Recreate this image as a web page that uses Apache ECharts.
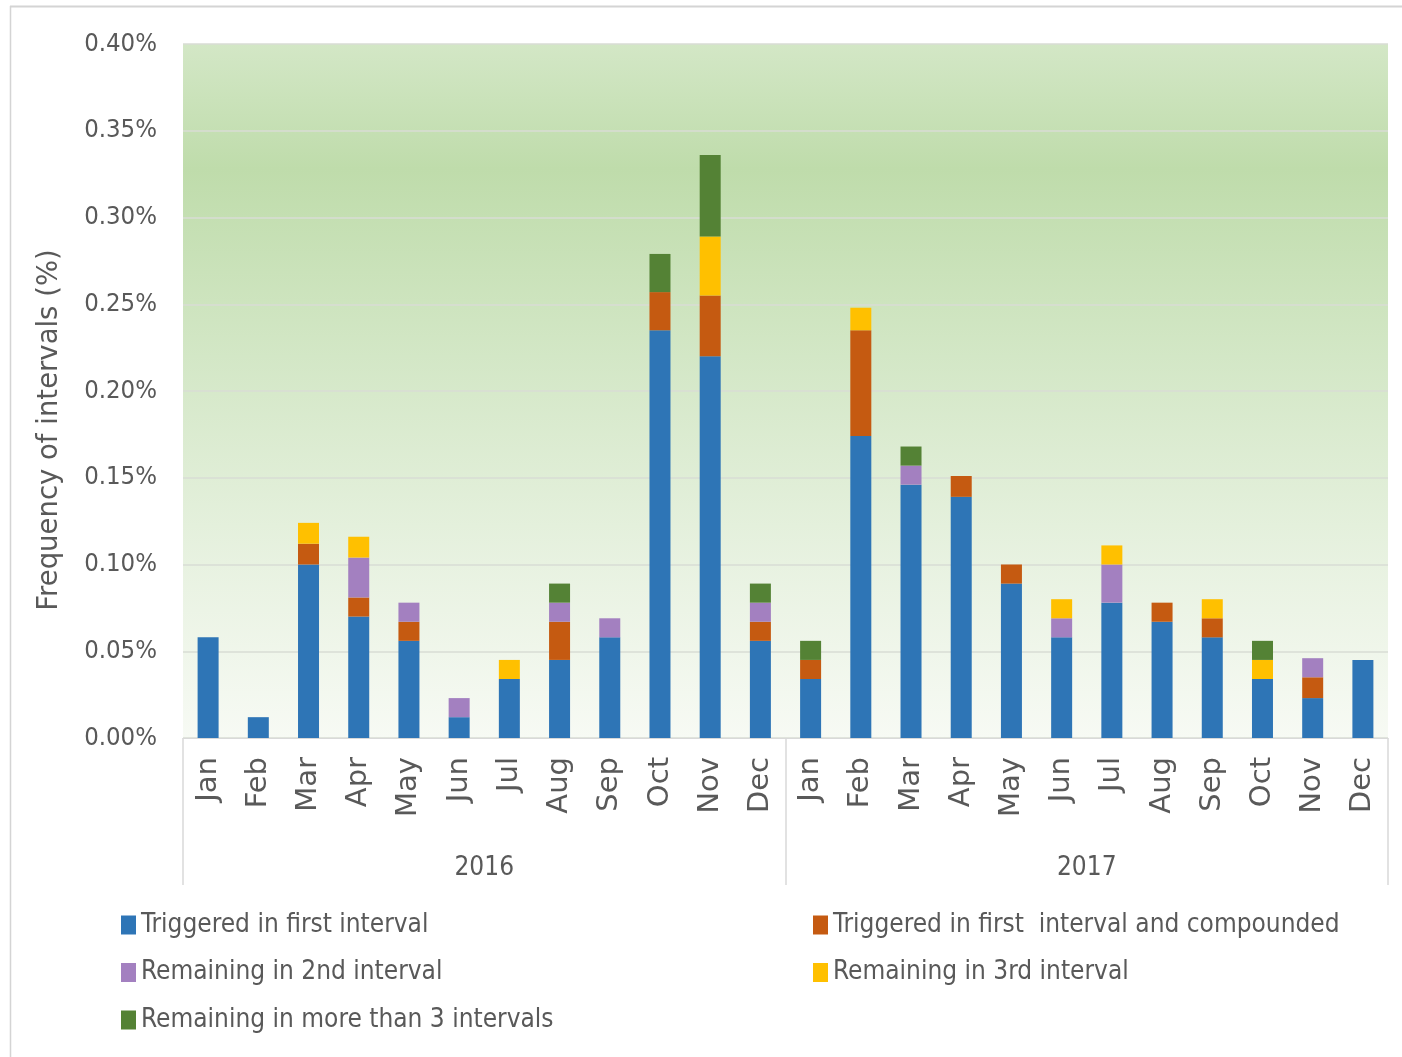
<!DOCTYPE html>
<html>
<head>
<meta charset="utf-8">
<title>Frequency of intervals</title>
<script src="https://cdn.jsdelivr.net/npm/echarts@6/dist/echarts.min.js"></script>
<style>
  html, body { margin: 0; padding: 0; background: #fff; }
  #chart { width: 1402px; height: 1057px; }
</style>
</head>
<body>
<div id="chart"></div>
<script>
// 月份 / 年份
const months = ['Jan', 'Feb', 'Mar', 'Apr', 'May', 'Jun', 'Jul', 'Aug', 'Sep', 'Oct', 'Nov', 'Dec',
  'Jan', 'Feb', 'Mar', 'Apr', 'May', 'Jun', 'Jul', 'Aug', 'Sep', 'Oct', 'Nov', 'Dec'];
const years = ['2016', '2017'];
const yTicks = [0, 0.05, 0.1, 0.15, 0.2, 0.25, 0.3, 0.35, 0.4];

// 各分段数值 (%)
const triggeredFirst = [0.058, 0.012, 0.100, 0.070, 0.056, 0.012, 0.034, 0.045, 0.058, 0.235, 0.220, 0.056,
  0.034, 0.174, 0.146, 0.139, 0.089, 0.058, 0.078, 0.067, 0.058, 0.034, 0.023, 0.045];
const compounded = [0, 0, 0.012, 0.011, 0.011, 0, 0, 0.022, 0, 0.022, 0.035, 0.011,
  0.011, 0.061, 0, 0.012, 0.011, 0, 0, 0.011, 0.011, 0, 0.012, 0];
const remaining2nd = [0, 0, 0, 0.023, 0.011, 0.011, 0, 0.011, 0.011, 0, 0, 0.011,
  0, 0, 0.011, 0, 0, 0.011, 0.022, 0, 0, 0, 0.011, 0];
const remaining3rd = [0, 0, 0.012, 0.012, 0, 0, 0.011, 0, 0, 0, 0.034, 0,
  0, 0.013, 0, 0, 0, 0.011, 0.011, 0, 0.011, 0.011, 0, 0];
const remainingMore = [0, 0, 0, 0, 0, 0, 0, 0.011, 0, 0.022, 0.047, 0.011,
  0.011, 0, 0.011, 0, 0, 0, 0, 0, 0, 0.011, 0, 0];

const seriesNames = [
  'Triggered in first interval',
  'Triggered in first  interval and compounded',
  'Remaining in 2nd interval',
  'Remaining in 3rd interval',
  'Remaining in more than 3 intervals'
];
const seriesData = [triggeredFirst, compounded, remaining2nd, remaining3rd, remainingMore];
const colors = ['#2e75b6', '#c55a11', '#a380c0', '#ffc000', '#548235'];

const textColor = '#595959';
const narrow = '"DejaVu Sans Condensed", sans-serif';
const regular = '"DejaVu Sans", sans-serif';

const chart = echarts.init(document.getElementById('chart'));

const legendText = { color: textColor, fontSize: 26, lineHeight: 28, fontFamily: narrow, padding: [0, 0, 0, 0] };

const option = {
  color: colors,
  animation: false,
  graphic: [
    { type: 'line', shape: { x1: 10, y1: 6.5, x2: 1402, y2: 6.5 }, style: { stroke: '#d4d4d4', lineWidth: 2 } },
    { type: 'line', shape: { x1: 10.5, y1: 6, x2: 10.5, y2: 1057 }, style: { stroke: '#d4d4d4', lineWidth: 1.5 } }
  ],
  grid: {
    left: 183,
    right: 14,
    top: 44,
    bottom: 319,
    show: true,
    borderWidth: 0,
    backgroundColor: new echarts.graphic.LinearGradient(0, 0, 0, 1, [
      { offset: 0, color: '#d3e7c6' },
      { offset: 0.18, color: '#bfdcab' },
      { offset: 0.45, color: '#d3e7c6' },
      { offset: 0.75, color: '#e8f2e1' },
      { offset: 1, color: '#f7faf4' }
    ])
  },
  legend: [
    {
      left: 116,
      top: 906,
      orient: 'vertical',
      itemGap: 19.5,
      itemWidth: 15,
      itemHeight: 19,
      icon: 'rect',
      textStyle: legendText,
      data: [seriesNames[0], seriesNames[2], seriesNames[4]]
    },
    {
      left: 808,
      top: 906,
      orient: 'vertical',
      itemGap: 19.5,
      itemWidth: 15,
      itemHeight: 19,
      icon: 'rect',
      textStyle: legendText,
      data: [seriesNames[1], seriesNames[3]]
    }
  ],
  xAxis: [
    {
      type: 'category',
      data: months,
      position: 'bottom',
      axisLine: { show: true, lineStyle: { color: '#d9d9d9', width: 1 } },
      axisTick: { show: false },
      axisLabel: {
        rotate: 90,
        margin: 19,
        color: textColor,
        fontSize: 29,
        fontFamily: regular,
        interval: 0
      }
    },
    {
      type: 'category',
      data: years,
      position: 'bottom',
      axisLine: { show: false },
      axisTick: { show: true, length: 147, lineStyle: { color: '#d9d9d9', width: 1.5 } },
      axisLabel: {
        margin: 117,
        color: textColor,
        fontSize: 26,
        fontFamily: narrow
      },
      splitLine: { show: false }
    }
  ],
  yAxis: {
    type: 'value',
    min: yTicks[0],
    max: yTicks[yTicks.length - 1],
    interval: 0.05,
    name: 'Frequency of intervals (%)',
    nameLocation: 'middle',
    nameGap: 119,
    nameRotate: 90,
    nameTextStyle: { color: textColor, fontSize: 27.5, fontFamily: regular, padding: [0, 78, 0, 0] },
    axisLine: { show: false },
    axisTick: { show: false },
    axisLabel: {
      margin: 26,
      color: textColor,
      fontSize: 25.5,
      fontFamily: narrow,
      formatter: v => v.toFixed(2) + '%'
    },
    splitLine: { lineStyle: { color: '#d8ddd4', width: 1.5 } }
  },
  series: seriesData.map((data, i) => ({
    name: seriesNames[i],
    type: 'bar',
    stack: 'total',
    xAxisIndex: 0,
    barWidth: 21,
    data: data
  }))
};

chart.setOption(option);
window.addEventListener('resize', () => chart.resize());
</script>
</body>
</html>
